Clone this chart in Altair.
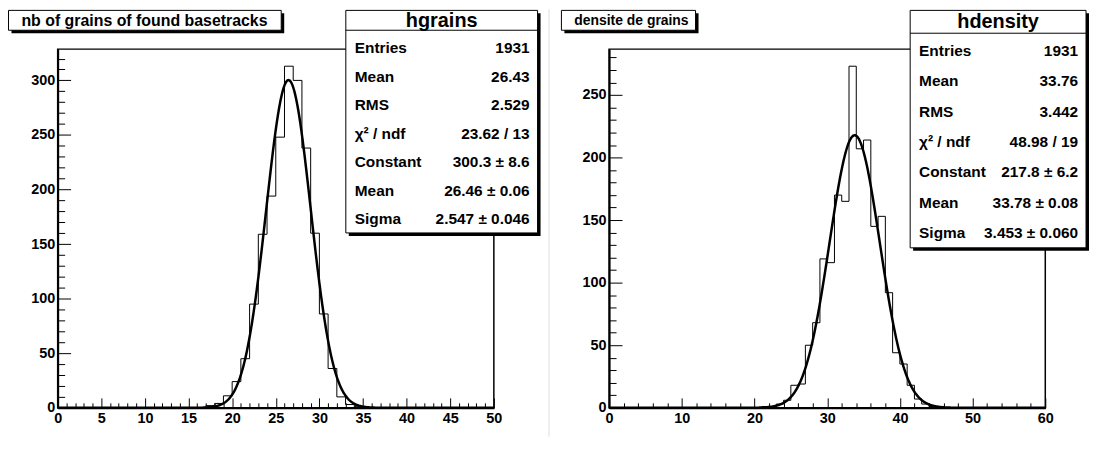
import altair as alt
import pandas as pd

# ---------------- data ----------------
grains_counts = [0, 0, 0, 0, 0, 0, 0, 0, 0, 0,
                 0, 0, 0, 0, 0, 0, 0, 2, 4, 11,
                 24, 45, 95, 159, 194, 248, 313, 300, 238, 160,
                 86, 36, 10, 3, 1, 0, 0, 0, 0, 0,
                 0, 0, 0, 0, 0, 0, 0, 0, 0, 0]
grains_fit = [300.3, 26.46, 2.547]   # constant, mean, sigma
grains_title = "nb of grains of found basetracks"
grains_name = "hgrains"
grains_stat_values = ["1931", "26.43", "2.529", "23.62 / 13",
                      "300.3 \u00b1 8.6", "26.46 \u00b1 0.06", "2.547 \u00b1 0.046"]

density_counts = [0, 0, 0, 0, 0, 0, 0, 0, 0, 0,
                  0, 0, 0, 0, 0, 0, 0, 0, 0, 0,
                  0, 1, 1, 3, 6, 18, 19, 50, 68, 119,
                  116, 170, 165, 273, 207, 214, 145, 153, 92, 44,
                  35, 18, 7, 3, 1, 1, 0, 0, 0, 0,
                  0, 0, 0, 0, 0, 0, 0, 0, 0, 0]
density_fit = [217.8, 33.78, 3.453]
density_title = "densite de grains"
density_name = "hdensity"
density_stat_values = ["1931", "33.76", "3.442", "48.98 / 19",
                       "217.8 \u00b1 6.2", "33.78 \u00b1 0.08", "3.453 \u00b1 0.060"]

stat_labels = ["Entries", "Mean", "RMS", "\u03c7\u00b2 / ndf", "Constant", "Mean", "Sigma"]

grains_x_major = [0, 5, 10, 15, 20, 25, 30, 35, 40, 45, 50]
grains_x_minor = [v for v in range(0, 51) if v % 5 != 0]
grains_y_major = [0, 50, 100, 150, 200, 250, 300]
grains_y_minor = [v for v in range(0, 330, 10) if v % 50 != 0]

density_x_major = [0, 10, 20, 30, 40, 50, 60]
density_x_minor = [v for v in range(0, 61, 2) if v % 10 != 0]
density_y_major = [0, 50, 100, 150, 200, 250]
density_y_minor = [v for v in range(0, 290, 10) if v % 50 != 0]

# ---------------- layout ----------------
W, H = 1088, 430
Y_BOT, Y_TOP = 401, 40
FONT = "Liberation Sans"
dummy = alt.Data(values=[{"k": 1}])


def panel(counts, fit, xr, ymax, xmaj, xmin, ymaj, ymin):
    n = len(counts)
    hist_df = pd.DataFrame({"x": list(range(n + 1)), "y": counts + [counts[-1]]})
    xs = alt.Scale(domain=[0, n], range=xr, nice=False, zero=False)
    ys = alt.Scale(domain=[0, ymax], range=[Y_BOT, Y_TOP], nice=False, zero=False)

    label_x = alt.Axis(orient="bottom", offset=Y_BOT - H, values=xmaj, ticks=False, tickSize=0,
                       domainWidth=2, domainColor="black", labelPadding=4, labelFlush=False,
                       labelOverlap=False, format="d", title=None, grid=False)
    label_y = alt.Axis(orient="left", offset=-xr[0], values=ymaj, ticks=False, tickSize=0,
                       domainWidth=2, domainColor="black", labelPadding=3, labelOverlap=False,
                       format="d", title=None, grid=False)
    major_x = alt.Axis(orient="top", offset=-Y_BOT, values=xmaj, labels=False, domain=False,
                       tickSize=10, tickWidth=1, tickColor="black", title=None, grid=False)
    major_y = alt.Axis(orient="right", offset=xr[0] - W, values=ymaj, labels=False, domain=False,
                       tickSize=13, tickWidth=1, tickColor="black", title=None, grid=False)
    minor_x = alt.Axis(orient="top", offset=-Y_BOT, values=xmin, labels=False, domain=False,
                       tickSize=5, tickWidth=1, tickColor="black", title=None, grid=False)
    minor_y = alt.Axis(orient="right", offset=xr[0] - W, values=ymin, labels=False, domain=False,
                       tickSize=7, tickWidth=1, tickColor="black", title=None, grid=False)

    frame = alt.Chart(dummy).mark_rect(fillOpacity=0, stroke="black", strokeWidth=1.5).encode(
        x=alt.XDatum(0, type="quantitative", scale=xs, axis=minor_x),
        x2=alt.X2Datum(n),
        y=alt.YDatum(0, type="quantitative", scale=ys, axis=minor_y),
        y2=alt.Y2Datum(ymax),
    )
    hist = alt.Chart(hist_df).mark_line(interpolate="step-after", color="black", strokeWidth=1).encode(
        x=alt.X("x:Q", scale=xs, axis=label_x),
        y=alt.Y("y:Q", scale=ys, axis=label_y),
    )
    c, m, s = fit
    curve = alt.Chart(alt.sequence(0, n + 0.025, 0.05, as_="x")).transform_calculate(
        y=f"{c}*exp(-0.5*pow((datum.x-{m})/{s},2))"
    ).mark_line(color="black", strokeWidth=2.5).encode(
        x=alt.X("x:Q", scale=xs, axis=major_x),
        y=alt.Y("y:Q", scale=ys, axis=major_y),
    )
    return alt.layer(frame, hist, curve).resolve_axis(x="independent", y="independent")


def box(x0, x1, y0, y1, shadow=3):
    sh = alt.Chart(dummy).mark_rect(color="black").encode(
        x=alt.value(x0 + shadow), x2=alt.value(x1 + shadow),
        y=alt.value(y0 + shadow), y2=alt.value(y1 + shadow))
    bx = alt.Chart(dummy).mark_rect(fill="white", stroke="black", strokeWidth=1).encode(
        x=alt.value(x0), x2=alt.value(x1), y=alt.value(y0), y2=alt.value(y1))
    return [sh, bx]


def title_box(text, x0, x1, size):
    layers = box(x0, x1, 1, 21)
    layers.append(alt.Chart(dummy).mark_text(font=FONT, fontWeight="bold", fontSize=size,
                                             align="left", baseline="middle", color="black").encode(
        x=alt.value(x0 + 13), y=alt.value(12), text=alt.value(text)))
    return layers


def stat_box(name, values, x0, x1, y1, head_y, row0, pitch):
    layers = box(x0, x1, 1, y1)
    layers.append(alt.Chart(dummy).mark_rule(color="black", strokeWidth=1).encode(
        x=alt.value(x0), x2=alt.value(x1), y=alt.value(head_y)))
    layers.append(alt.Chart(dummy).mark_text(font=FONT, fontWeight="bold", fontSize=20,
                                             align="center", baseline="middle", color="black").encode(
        x=alt.value((x0 + x1) / 2), y=alt.value(head_y / 2 + 1), text=alt.value(name)))
    df = pd.DataFrame({"i": list(range(len(stat_labels))), "label": stat_labels, "value": values})
    base = alt.Chart(df).transform_calculate(py=f"{row0} + datum.i * {pitch}")
    layers.append(base.mark_text(font=FONT, fontWeight="bold", fontSize=15.5, align="left",
                                 baseline="middle", color="black").encode(
        x=alt.value(x0 + 9), y=alt.Y("py:Q", scale=None, axis=None), text="label:N"))
    layers.append(base.mark_text(font=FONT, fontWeight="bold", fontSize=15.5, align="right",
                                 baseline="middle", color="black").encode(
        x=alt.value(x1 - 8), y=alt.Y("py:Q", scale=None, axis=None), text="value:N"))
    return layers


left = panel(grains_counts, grains_fit, [50, 489], 328.65,
             grains_x_major, grains_x_minor, grains_y_major, grains_y_minor)
right = panel(density_counts, density_fit, [605, 1044], 286.65,
              density_x_major, density_x_minor, density_y_major, density_y_minor)

divider = alt.Chart(dummy).mark_rule(color="#dedede", strokeWidth=1).encode(
    x=alt.value(544.5), y=alt.value(0), y2=alt.value(H))

layers = [divider, left, right]
layers += title_box(grains_title, 0.5, 275, 16)
layers += title_box(density_title, 557, 692, 14)
layers += stat_box(grains_name, grains_stat_values, 340, 533, 225, 21, 39, 28.7)
layers += stat_box(density_name, density_stat_values, 908, 1085, 240, 24, 42, 30.55)

chart = alt.layer(*layers).resolve_scale(x="independent", y="independent").properties(
    width=W, height=H, padding=0, autosize=alt.AutoSizeParams(type="none")
).configure_view(strokeWidth=0).configure_axis(
    labelFont=FONT, labelFontSize=14.5, labelFontWeight="bold", labelColor="black"
)

chart.save("out.html", embed_options={"renderer": "svg", "actions": False})
